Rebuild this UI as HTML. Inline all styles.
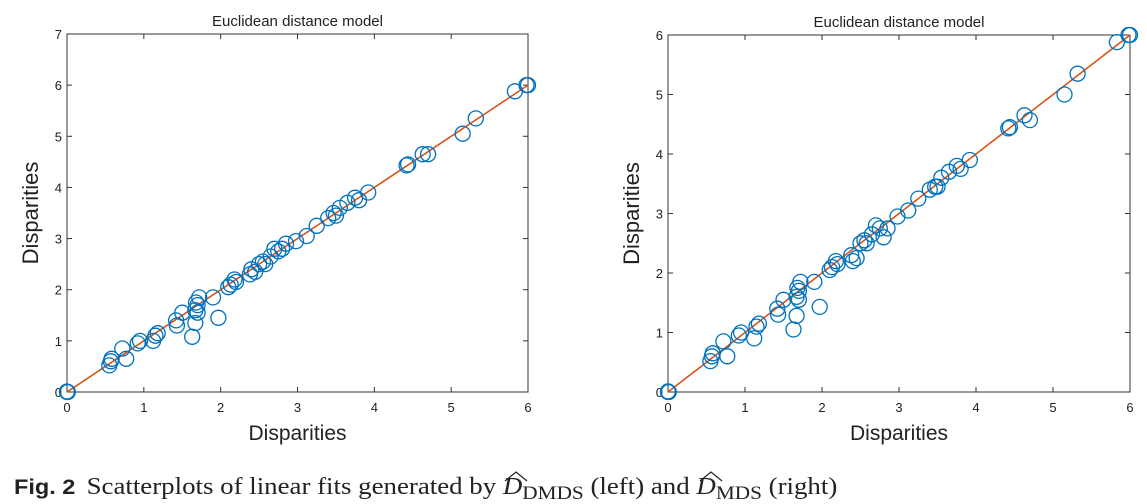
<!DOCTYPE html>
<html><head><meta charset="utf-8"><style>
body{margin:0;background:#fff;width:1147px;height:504px;overflow:hidden}
svg{display:block}
text{font-family:"Liberation Sans",sans-serif;fill:#222}
</style></head><body>
<svg id="s" width="1147" height="504" xmlns="http://www.w3.org/2000/svg"></svg>
<script>
var S=document.getElementById('s'),h='';
var L=[[0,0],[0.01,0],[0,0.01],[0.55,0.52],[0.57,0.6],[0.58,0.65],[0.72,0.85],[0.77,0.65],[0.92,0.95],[0.95,1.0],[1.12,1.0],[1.15,1.1],[1.18,1.15],[1.42,1.4],[1.43,1.3],[1.5,1.55],[1.63,1.08],[1.67,1.35],[1.67,1.6],[1.68,1.75],[1.7,1.7],[1.72,1.85],[1.7,1.55],[1.9,1.85],[1.97,1.45],[2.1,2.05],[2.13,2.1],[2.18,2.2],[2.2,2.15],[2.38,2.3],[2.4,2.4],[2.45,2.35],[2.5,2.5],[2.55,2.55],[2.58,2.5],[2.65,2.65],[2.7,2.8],[2.75,2.75],[2.8,2.8],[2.85,2.9],[2.98,2.95],[3.12,3.05],[3.25,3.25],[3.4,3.4],[3.47,3.5],[3.5,3.45],[3.55,3.6],[3.65,3.7],[3.75,3.8],[3.8,3.75],[3.92,3.9],[4.42,4.43],[4.44,4.45],[4.63,4.65],[4.7,4.65],[5.15,5.05],[5.32,5.35],[5.83,5.88],[6,6],[5.98,6.0]];
var R=L.map(function(p){return [p[0],p[1]];});
var adj={16:1.05,17:1.28,24:1.43,55:5.0,54:4.57,10:0.9,7:0.6,44:3.45,30:2.2,31:2.25,38:2.6,39:2.75};
for(var k in adj)R[k][1]=adj[k];
function plot(x0,x1,y0,y1,ymax,pts){
 var sx=(x1-x0)/6,sy=(y1-y0)/ymax,i;
 h+='<text x="'+((x0+x1)/2)+'" y="'+(y0-8)+'" font-size="15" text-anchor="middle">Euclidean distance model</text>';
 for(i=0;i<=6;i++){var x=x0+i*sx;
  h+='<line x1="'+x+'" x2="'+x+'" y1="'+y1+'" y2="'+(y1-5)+'" stroke="#333"/><line x1="'+x+'" x2="'+x+'" y1="'+y0+'" y2="'+(y0+5)+'" stroke="#333"/>';
  h+='<text x="'+x+'" y="'+(y1+20)+'" font-size="13" text-anchor="middle">'+i+'</text>';}
 for(i=0;i<=ymax;i++){var y=y1-i*sy;
  h+='<line x1="'+x0+'" x2="'+(x0+5)+'" y1="'+y+'" y2="'+y+'" stroke="#333"/><line x1="'+x1+'" x2="'+(x1-5)+'" y1="'+y+'" y2="'+y+'" stroke="#333"/>';
  h+='<text x="'+(x0-5)+'" y="'+(y+5)+'" font-size="13" text-anchor="end">'+i+'</text>';}
 h+='<rect x="'+x0+'" y="'+y0+'" width="'+(x1-x0)+'" height="'+(y1-y0)+'" fill="none" stroke="#333"/>';
 h+='<line x1="'+x0+'" y1="'+y1+'" x2="'+(x0+6*sx)+'" y2="'+(y1-6*sy)+'" stroke="#d95319" stroke-width="1.6"/>';
 pts.forEach(function(p){h+='<circle cx="'+(x0+p[0]*sx).toFixed(1)+'" cy="'+(y1-p[1]*sy).toFixed(1)+'" r="7.5" fill="none" stroke="#0072bd" stroke-width="1.3"/>';});
 h+='<text x="'+((x0+x1)/2)+'" y="'+(y1+48)+'" font-size="21" text-anchor="middle">Disparities</text>';
 var cy=(y0+y1)/2;
 h+='<text x="0" y="0" font-size="22" text-anchor="middle" transform="translate('+(x0-29)+','+cy+') rotate(-90)">Disparities</text>';
}
plot(67,528,34,392,7,L);
plot(668,1130,35,392,6,R);
h+='<g transform="translate(14,494) scale(1.12,1)"><text x="0" y="0" font-size="24"><tspan font-weight="bold" font-family="Liberation Sans Narrow, Liberation Sans, sans-serif" font-size="21">Fig. 2</tspan><tspan font-family="Liberation Serif,serif" dx="10">Scatterplots of linear fits generated by </tspan><tspan font-family="Liberation Serif,serif" font-style="italic">D</tspan><tspan font-family="Liberation Serif,serif" font-size="19" dy="5">DMDS</tspan><tspan font-family="Liberation Serif,serif" dy="-5"> (left) and </tspan><tspan font-family="Liberation Serif,serif" font-style="italic">D</tspan><tspan font-family="Liberation Serif,serif" font-size="19" dy="5">MDS</tspan><tspan font-family="Liberation Serif,serif" dy="-5"> (right)</tspan></text></g>';
h+='<polyline points="505,481 516,472 527,481" fill="none" stroke="#222" stroke-width="1.2"/>';
h+='<polyline points="700,481 711,472 722,481" fill="none" stroke="#222" stroke-width="1.2"/>';
S.innerHTML=h;
</script>
</body></html>
